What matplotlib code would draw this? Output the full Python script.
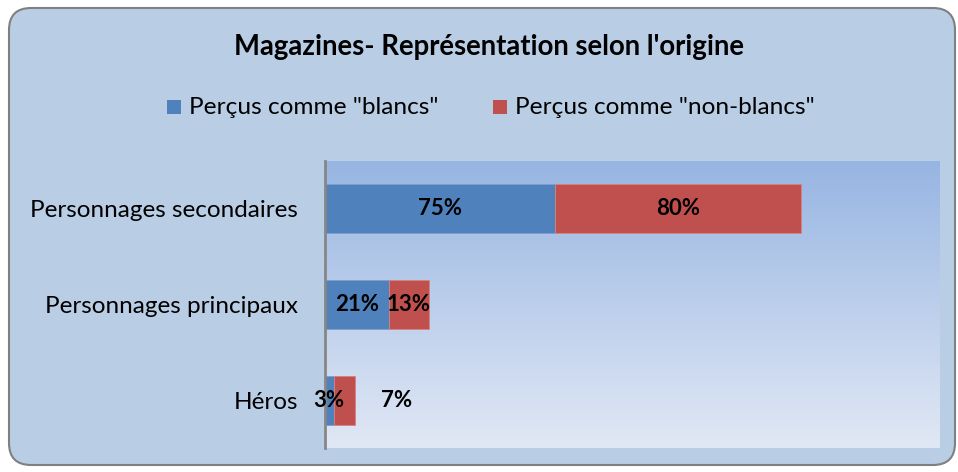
import matplotlib
matplotlib.use("Agg")
import matplotlib.pyplot as plt
import numpy as np
from matplotlib.patches import FancyBboxPatch
from matplotlib.colors import LinearSegmentedColormap

categories = ["Personnages secondaires", "Personnages principaux", "Héros"]
blancs = [75, 21, 3]
non_blancs = [80, 13, 7]
series_names = ['Perçus comme "blancs"', 'Perçus comme "non-blancs"']
title = "Magazines- Représentation selon l'origine"

BLUE = "#4f81bd"
RED = "#c0504d"
FONT = ["Lato", "DejaVu Sans"]

W, H = 958, 472
fig = plt.figure(figsize=(W / 100, H / 100), dpi=100, facecolor="white")

# background frame with rounded corners
bg = fig.add_axes([0, 0, 1, 1])
bg.set_xlim(0, W)
bg.set_ylim(H, 0)
bg.axis("off")
frame = FancyBboxPatch((9, 8), 946, 457, boxstyle="round,pad=0,rounding_size=22",
                       facecolor="#b9cde5", edgecolor="#808080", linewidth=1.5)
bg.add_patch(frame)

bg.text(489, 47, title, ha="center", va="center", fontsize=19.8,
        fontweight="bold", family=FONT, color="black")

# legend
leg_items = [(167, BLUE, series_names[0]), (493, RED, series_names[1])]
for x0, col, name in leg_items:
    bg.add_patch(plt.Rectangle((x0, 100), 14, 14, facecolor=col, edgecolor="none"))
    bg.text(x0 + 22, 107, name, ha="left", va="center", fontsize=17.6,
            family=FONT, color="black")

# plot area
left, right, top, bottom = 324.5, 939, 161, 448
ax = fig.add_axes([left / W, 1 - bottom / H, (right - left) / W, (bottom - top) / H])
ax.set_xlim(0, 200)
ax.set_ylim(2.5, -0.5)

grad = np.linspace(0, 1, 256).reshape(-1, 1)
cmap = LinearSegmentedColormap.from_list("area", ["#97b5e2", "#e1e8f5"])
ax.imshow(grad, cmap=cmap, aspect="auto", extent=[0, 200, 2.5, -0.5], zorder=0)

y = np.arange(len(categories))
bars_b = ax.barh(y, blancs, height=0.51, color=BLUE, edgecolor="#7a9fd0",
                 linewidth=0.6, zorder=2)
bars_r = ax.barh(y, non_blancs, left=blancs, height=0.51, color=RED,
                 edgecolor="#d68380", linewidth=0.6, zorder=2)

for i in range(len(categories)):
    ax.text(blancs[i] / 2, y[i], f"{blancs[i]}%", ha="center", va="center",
            fontsize=16, fontweight="bold", family=FONT, zorder=3)
    dx = 52 if i == 2 else 0
    ax.annotate(f"{non_blancs[i]}%", (blancs[i] + non_blancs[i] / 2, y[i]),
                xytext=(dx, 0), textcoords="offset pixels", ha="center",
                va="center", fontsize=16, fontweight="bold", family=FONT,
                zorder=3)

for s in ["top", "right", "bottom"]:
    ax.spines[s].set_visible(False)
ax.spines["left"].set_color("#868686")
ax.spines["left"].set_linewidth(2)
ax.set_xticks([])
ax.set_yticks(y)
ax.set_yticklabels(categories, fontsize=17.5, family=FONT)
ax.tick_params(axis="y", length=0, pad=19)

fig.savefig("out.png", dpi=100, facecolor="white")
